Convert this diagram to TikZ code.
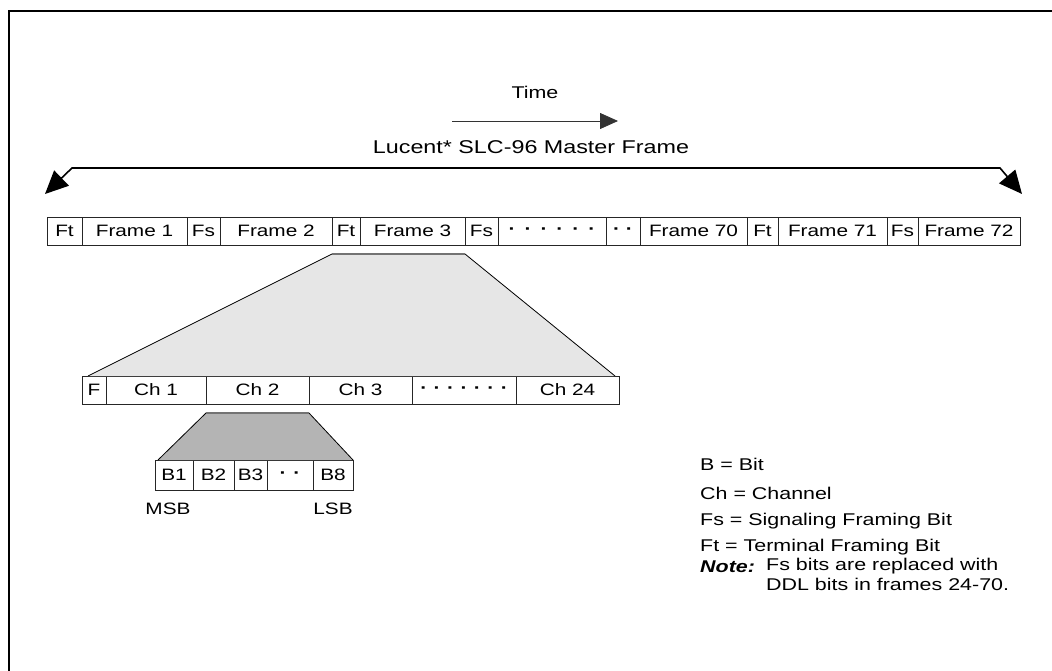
\documentclass[tikz,border=0pt]{standalone}
\usepackage{fontspec}
\setmainfont[FakeStretch=1.26]{Liberation Sans}
\usetikzlibrary{positioning,arrows.meta}

\definecolor{lightfill}{HTML}{E6E6E6}
\definecolor{darkfill}{HTML}{B4B4B4}
\newcommand\dotsep[1]{\hspace{#1}\textbf{·}}

\begin{document}
\begin{tikzpicture}[x=1pt,y=-1pt,>=Triangle,
  every node/.style={font=\fontsize{16.5}{20}\selectfont},
  cell/.style={draw=black!85,line width=.8pt,inner sep=0pt,outer sep=0pt,minimum height=28pt,anchor=west},
  legend/.style={anchor=west,inner sep=0pt,font=\fontsize{17}{20}\selectfont}]
\useasboundingbox (0,0) rectangle (1052,671);
\draw[line width=2.5pt] (9,672) -- (9,11) -- (1053,11);
% time and master frame span
\node[font=\fontsize{17}{20}\selectfont] (time) at (535,92) {Time};
\coordinate (t1) at (452,121);
\coordinate (t2) at (618,121);
\draw[black!80,line width=.8pt,-{Triangle[length=18pt,width=16pt]}] (t1) -- (t2);
\node[font=\fontsize{18.5}{22}\selectfont] (master) at (531,147) {Lucent* SLC-96 Master Frame};
\coordinate (sl) at (72,168);
\coordinate (sr) at (1000,168);
\coordinate (al) at (45,194);
\coordinate (ar) at (1022,194);
\draw[line width=1.6pt,{Triangle[length=23pt,width=21pt]}-{Triangle[length=23pt,width=21pt]}] (al) -- (sl) -- (sr) -- (ar);
% master frame row
\node[cell,minimum width=35pt] (m1) at (47,231) {Ft};
\node[cell,minimum width=105pt,right=0pt of m1] (m2) {Frame 1};
\node[cell,minimum width=33pt,right=0pt of m2] (m3) {Fs};
\node[cell,minimum width=112pt,right=0pt of m3] (m4) {Frame 2};
\node[cell,minimum width=28pt,right=0pt of m4] (m5) {Ft};
\node[cell,minimum width=105pt,right=0pt of m5] (m6) {Frame 3};
\node[cell,minimum width=33pt,right=0pt of m6] (m7) {Fs};
\node[cell,minimum width=108pt,right=0pt of m7] (m8) {\textbf{·}\dotsep{9pt}\dotsep{9pt}\dotsep{9pt}\dotsep{9pt}\dotsep{9pt}};
\node[cell,minimum width=34pt,right=0pt of m8] (m9) {\textbf{·}\dotsep{6pt}};
\node[cell,minimum width=107pt,right=0pt of m9] (m10) {Frame 70};
\node[cell,minimum width=31pt,right=0pt of m10] (m11) {Ft};
\node[cell,minimum width=109pt,right=0pt of m11] (m12) {Frame 71};
\node[cell,minimum width=31pt,right=0pt of m12] (m13) {Fs};
\node[cell,minimum width=102pt,right=0pt of m13] (m14) {Frame 72};
% channel row
\node[cell,minimum width=24pt] (c1) at (82,390) {F};
\node[cell,minimum width=100pt,right=0pt of c1] (c2) {Ch 1};
\node[cell,minimum width=103pt,right=0pt of c2] (c3) {Ch 2};
\node[cell,minimum width=103pt,right=0pt of c3] (c4) {Ch 3};
\node[cell,minimum width=104pt,right=0pt of c4] (c5) {\textbf{·}\dotsep{6.5pt}\dotsep{6.5pt}\dotsep{6.5pt}\dotsep{6.5pt}\dotsep{6.5pt}\dotsep{6.5pt}};
\node[cell,minimum width=103pt,right=0pt of c5] (c6) {Ch 24};
% expansion of frame 3
\fill[lightfill] ([yshift=-9pt]m5.south west) -- ([yshift=-9pt]m6.south east) -- ([xshift=-4pt]c6.north east) -- ([xshift=6pt]c1.north west) -- cycle;
\draw[line width=.8pt] ([yshift=-9pt]m6.south east) -- ([xshift=-4pt]c6.north east);
\draw[line width=.8pt] ([yshift=-9pt]m5.south west) -- ([xshift=6pt]c1.north west);
\draw[black!55,line width=1.6pt] ([yshift=-9pt]m5.south west) -- ([yshift=-9pt]m6.south east);
% bit row
\node[cell,minimum width=38pt,minimum height=30pt] (b1) at (155,475) {B1};
\node[cell,minimum width=41pt,minimum height=30pt,right=0pt of b1] (b2) {B2};
\node[cell,minimum width=33pt,minimum height=30pt,right=0pt of b2] (b3) {B3};
\node[cell,minimum width=46pt,minimum height=30pt,right=0pt of b3] (b4) {\textbf{·}\dotsep{7pt}};
\node[cell,minimum width=40pt,minimum height=30pt,right=0pt of b4] (b5) {B8};
% expansion of channel 2
\fill[darkfill] ([yshift=-9pt]c3.south west) -- ([yshift=-9pt]c3.south east) -- (b5.north east) -- ([xshift=3pt]b1.north west) -- cycle;
\draw[line width=.8pt] ([yshift=-9pt]c3.south east) -- (b5.north east);
\draw[line width=.8pt] ([yshift=-9pt]c3.south west) -- ([xshift=3pt]b1.north west);
\draw[black!55,line width=1.6pt] ([yshift=-9pt]c3.south west) -- ([yshift=-9pt]c3.south east);
\node[below=13pt of b1,xshift=-6pt,inner sep=0pt] (msb) {MSB};
\node[below=13pt of b5,inner sep=0pt] (lsb) {LSB};
% legend
\node[legend] (lb) at (700,464) {B = Bit};
\node[legend] (lch) at (700,493) {Ch = Channel};
\node[legend] (lfs) at (700,521) {Fs = Signaling Framing Bit};
\node[legend] (lft) at (700,547) {Ft = Terminal Framing Bit};
\node[legend] (note) at (700,567) {\textbf{\textit{Note:}}};
\node[legend,anchor=north west,align=left] (notetxt) at (766,558) {Fs bits are replaced with\\DDL bits in frames 24-70.};
\end{tikzpicture}
\end{document}
